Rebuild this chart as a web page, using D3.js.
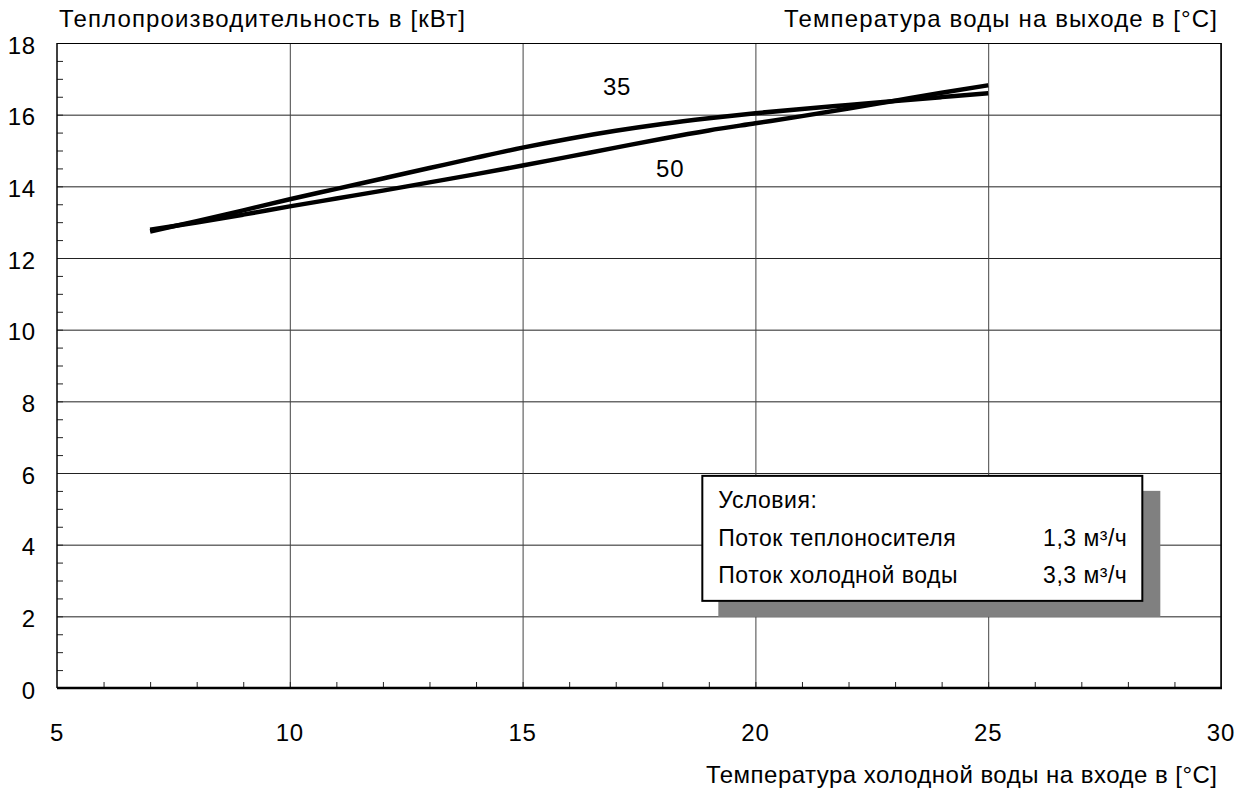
<!DOCTYPE html>
<html><head><meta charset="utf-8">
<script src="https://cdn.jsdelivr.net/npm/d3@7"></script>
<style>body{margin:0;background:#fff}svg{display:block}text{font-family:"Liberation Sans",Arial,sans-serif;fill:#000}</style>
</head><body>
<script>
const xTicks = [5,10,15,20,25,30];
const yTicks = [0,2,4,6,8,10,12,14,16,18];
const inletTemp = [7,8,9,10,11,12,13,14,15,16,17,18,19,20,21,22,23,24,25];
const output35 = [12.74,13.03,13.33,13.64,13.93,14.22,14.51,14.8,15.08,15.33,15.55,15.74,15.9,16.04,16.16,16.27,16.38,16.49,16.6];
const output50 = [12.79,12.99,13.21,13.44,13.66,13.88,14.11,14.34,14.58,14.83,15.08,15.33,15.56,15.76,15.96,16.17,16.39,16.61,16.82];
const seriesLabels = [{name:"35", x:17.03, y:16.54},{name:"50", x:18.17, y:14.25}];
const yTitle = "Теплопроизводительность в [кВт]";
const seriesTitle = "Температура воды на выходе в [°C]";
const xTitle = "Температура холодной воды на входе в [°C]";
const condTitle = "Условия:";
const condRows = [["Поток теплоносителя","1,3 м³/ч"],["Поток холодной воды","3,3 м³/ч"]];

const W=1249,H=792;
const L=57,R=1221,T=43,B=688;
const svg=d3.select("body").append("svg").attr("width",W).attr("height",H);
const x=d3.scaleLinear().domain([5,30]).range([L,R]);
const y=d3.scaleLinear().domain([0,18]).range([B,T]);
const FS=24, LS="0.8px";

// grid
svg.append("g").selectAll("line").data(yTicks.filter(d=>d>0)).join("line")
 .attr("x1",L).attr("x2",R).attr("y1",d=>y(d)+0.5).attr("y2",d=>y(d)+0.5).attr("stroke","#222").attr("stroke-width",1);
svg.append("g").selectAll("line").data(xTicks.filter(d=>d>5)).join("line")
 .attr("y1",T).attr("y2",B).attr("x1",d=>x(d)+0.5).attr("x2",d=>x(d)+0.5).attr("stroke","#444").attr("stroke-width",1);

// minor ticks
svg.append("g").selectAll("line").data(d3.range(0.5,18,0.5)).join("line")
 .attr("x1",L).attr("x2",L+6).attr("y1",d=>y(d)+0.5).attr("y2",d=>y(d)+0.5).attr("stroke","#222");
svg.append("g").selectAll("line").data(d3.range(6,30,1)).join("line")
 .attr("y1",B).attr("y2",B-6).attr("x1",d=>x(d)+0.5).attr("x2",d=>x(d)+0.5).attr("stroke","#222");

// frame
svg.append("line").attr("x1",L).attr("x2",L).attr("y1",T).attr("y2",B).attr("stroke","#000").attr("stroke-width",1.5);
svg.append("line").attr("x1",L).attr("x2",R).attr("y1",T+0.5).attr("y2",T+0.5).attr("stroke","#000").attr("stroke-width",1);
svg.append("line").attr("x1",R).attr("x2",R).attr("y1",T).attr("y2",B).attr("stroke","#000").attr("stroke-width",1.5);
svg.append("line").attr("x1",L).attr("x2",R+1).attr("y1",B).attr("y2",B).attr("stroke","#000").attr("stroke-width",2.5);

// tick labels
svg.append("g").selectAll("text").data(yTicks).join("text")
 .attr("x",36).attr("y",d=>y(d)+2).attr("dy","0.36em").attr("text-anchor","end").attr("font-size",FS).attr("letter-spacing",LS).text(d=>d);
svg.append("g").selectAll("text").data(xTicks).join("text")
 .attr("x",d=>x(d)).attr("y",741).attr("text-anchor","middle").attr("font-size",FS).attr("letter-spacing",LS).text(d=>d);

// titles
svg.append("text").attr("x",59).attr("y",27).attr("font-size",FS)
 .attr("textLength",406).attr("lengthAdjust","spacing").text(yTitle);
svg.append("text").attr("x",784).attr("y",27).attr("font-size",FS)
 .attr("textLength",433).attr("lengthAdjust","spacing").text(seriesTitle);
svg.append("text").attr("x",706).attr("y",783).attr("font-size",FS)
 .attr("textLength",511).attr("lengthAdjust","spacing").text(xTitle);

// curves
const line=d3.line().x(d=>x(d[0])).y(d=>y(d[1])).curve(d3.curveMonotoneX);
[output35,output50].forEach(s=>{
  svg.append("path").datum(inletTemp.map((t,i)=>[t,s[i]])).attr("d",line)
   .attr("fill","none").attr("stroke","#000").attr("stroke-width",4.5);
});
svg.append("g").selectAll("text").data(seriesLabels).join("text")
 .attr("x",d=>x(d.x)).attr("y",d=>y(d.y)).attr("text-anchor","middle").attr("font-size",FS).attr("letter-spacing",LS).text(d=>d.name);

// conditions box
const bx=x(18.86), by=y(5.92), bw=440, bh=125;
svg.append("rect").attr("x",bx+16).attr("y",by+15).attr("width",bw+2).attr("height",bh+1).attr("fill","#808080");
svg.append("rect").attr("x",bx).attr("y",by).attr("width",bw).attr("height",bh).attr("fill","#fff").attr("stroke","#000").attr("stroke-width",2);
svg.append("text").attr("x",bx+16).attr("y",by+32).attr("font-size",23).attr("letter-spacing","0.5px").text(condTitle);
condRows.forEach((r,i)=>{
  svg.append("text").attr("x",bx+16).attr("y",by+70+i*37).attr("font-size",23).attr("letter-spacing","0.5px").text(r[0]);
  svg.append("text").attr("x",bx+bw-15).attr("y",by+70+i*37).attr("text-anchor","end").attr("font-size",23).attr("letter-spacing","0.5px").text(r[1]);
});
</script>
</body></html>
